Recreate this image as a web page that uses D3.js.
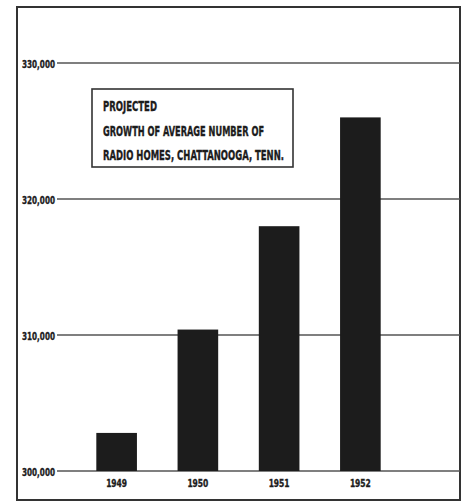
<!DOCTYPE html>
<html><head><meta charset="utf-8">
<script src="https://cdn.jsdelivr.net/npm/d3@7"></script>
<style>
html,body{margin:0;padding:0;background:#fff;}
svg{display:block;}
text{font-family:"Liberation Sans Narrow","DejaVu Sans Condensed","Arial Narrow",sans-serif;font-weight:bold;fill:#1c1c1c;stroke:#1c1c1c;stroke-width:0.35;}
</style></head><body>
<svg id="c" width="466" height="503"></svg>
<script>
const years = ["1949", "1950", "1951", "1952"];
const radioHomes = [302800, 310400, 318000, 326000];
const yTicks = [300000, 310000, 320000, 330000];
const titleLines = ["PROJECTED", "GROWTH OF AVERAGE NUMBER OF", "RADIO HOMES, CHATTANOOGA, TENN."];

const svg = d3.select("#c");
const ink = "#1c1c1c";

// frame
svg.append("rect").attr("x", 17).attr("y", 7).attr("width", 443).attr("height", 493)
  .attr("fill", "none").attr("stroke", "#333").attr("stroke-width", 2);

const y = d3.scaleLinear().domain([300000, 330000]).range([471, 63]);
const x = d3.scaleBand().domain(years).range([76, 401]).paddingInner(0.5).paddingOuter(0.25);
const fmt = d3.format(",");

// gridlines
svg.append("g").selectAll("line").data(yTicks).join("line")
  .attr("x1", 57).attr("x2", 460)
  .attr("y1", d => y(d)).attr("y2", d => y(d))
  .attr("stroke", "#555").attr("stroke-width", 1.6);

// tick labels
svg.append("g").selectAll("text").data(yTicks).join("text")
  .attr("x", 22).attr("y", d => y(d) + 4.5)
  .attr("font-size", 11)
  .attr("textLength", 33).attr("lengthAdjust", "spacingAndGlyphs")
  .text(d => fmt(d));

// bars
svg.append("g").selectAll("rect").data(years).join("rect")
  .attr("x", d => x(d)).attr("width", x.bandwidth())
  .attr("y", (d, i) => y(radioHomes[i]))
  .attr("height", (d, i) => y(300000) - y(radioHomes[i]))
  .attr("fill", ink);

// year labels
svg.append("g").selectAll("text").data(years).join("text")
  .attr("x", d => x(d) + x.bandwidth() / 2).attr("y", 487)
  .attr("text-anchor", "middle").attr("font-size", 10.5)
  .attr("textLength", 21).attr("lengthAdjust", "spacingAndGlyphs")
  .text(d => d);

// title box
svg.append("rect").attr("x", 92).attr("y", 89).attr("width", 201).attr("height", 78)
  .attr("fill", "#fff").attr("stroke", "#333").attr("stroke-width", 1.6);
const titleWidths = [54, 161, 181];
const titleBase = [111, 136, 160];
svg.append("g").selectAll("text").data(titleLines).join("text")
  .attr("x", 103).attr("y", (d, i) => titleBase[i])
  .attr("font-size", 13.5)
  .attr("textLength", (d, i) => titleWidths[i]).attr("lengthAdjust", "spacingAndGlyphs")
  .text(d => d);
</script>
</body></html>
